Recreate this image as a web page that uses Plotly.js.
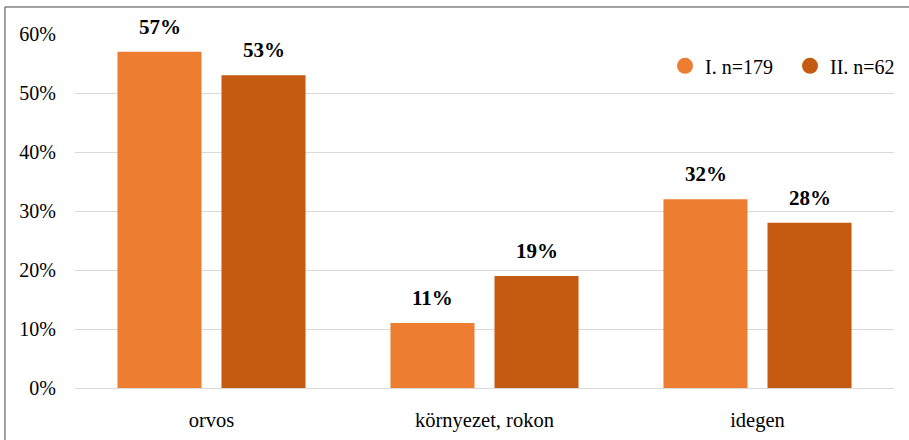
<!DOCTYPE html>
<html>
<head>
<meta charset="utf-8">
<script src="https://cdn.plot.ly/plotly-3.0.1.min.js"></script>
<style>
html,body{margin:0;padding:0;background:#fff;}
#chart{width:909px;height:440px;}
</style>
</head>
<body>
<div id="chart"></div>
<script>
const categories = ["orvos", "környezet, rokon", "idegen"];
const seriesNames = ["I. n=179", "II. n=62"];
const seriesI = [57, 11, 32];
const seriesII = [53, 19, 28];
const yTickVals = [0, 10, 20, 30, 40, 50, 60];
const yTickText = ["0%", "10%", "20%", "30%", "40%", "50%", "60%"];

const colors = ["#ED7D31", "#C55A11"];
const FONT = "Liberation Serif";

const allSeries = [seriesI, seriesII];
const traces = [];
allSeries.forEach((vals, i) => {
  traces.push({
    type: "bar",
    x: categories,
    y: vals,
    name: seriesNames[i],
    marker: {color: colors[i]},
    showlegend: false,
    hoverinfo: "x+y"
  });
});
allSeries.forEach((vals, i) => {
  traces.push({
    type: "scatter",
    mode: "markers",
    x: [null],
    y: [null],
    name: seriesNames[i],
    marker: {color: colors[i], size: 17, symbol: "circle"},
    showlegend: true,
    hoverinfo: "skip"
  });
});

const annotations = [];
allSeries.forEach((vals, i) => {
  vals.forEach((v, j) => {
    annotations.push({
      x: categories[j],
      y: v,
      xref: "x",
      yref: "y",
      text: "<b>" + v + "%</b>",
      showarrow: false,
      xanchor: "center",
      yanchor: "bottom",
      xshift: i === 0 ? -52 : 52,
      yshift: 11,
      font: {family: FONT, size: 21, color: "#000"}
    });
  });
});

const layout = {
  width: 909,
  height: 440,
  margin: {l: 75, r: 15, t: 34, b: 52, autoexpand: false},
  paper_bgcolor: "#fff",
  plot_bgcolor: "#fff",
  font: {family: FONT, size: 20, color: "#000"},
  barmode: "group",
  bargap: 0.238,
  bargroupgap: 0.192,
  xaxis: {
    type: "category",
    range: [-0.5, 2.5],
    showgrid: false,
    showline: false,
    zeroline: false,
    ticks: "",
    tickfont: {family: FONT, size: 20.5, color: "#000"},
    ticklabelstandoff: 17,
    automargin: false
  },
  yaxis: {
    range: [0, 60],
    tickvals: yTickVals,
    ticktext: yTickText,
    showgrid: true,
    gridcolor: "#D9D9D9",
    gridwidth: 1,
    zeroline: true,
    zerolinecolor: "#D9D9D9",
    zerolinewidth: 1,
    showline: false,
    ticks: "",
    ticklabelstandoff: 18,
    automargin: false,
    tickfont: {family: FONT, size: 20, color: "#000"}
  },
  showlegend: true,
  legend: {
    orientation: "h",
    x: 0.7204,
    xanchor: "left",
    y: 0.91,
    yanchor: "middle",
    entrywidth: 80,
    font: {family: FONT, size: 20, color: "#000"},
    bgcolor: "rgba(0,0,0,0)",
    itemclick: false
  },
  annotations: annotations,
  shapes: [
    {type: "line", xref: "paper", yref: "paper", x0: -0.0855, x1: 1.05, y0: 1.0763, y1: 1.0763, line: {color: "#404040", width: 1}},
    {type: "line", xref: "paper", yref: "paper", x0: -0.0855, x1: -0.0855, y0: 1.0763, y1: -0.2, line: {color: "#404040", width: 1}}
  ]
};

Plotly.newPlot("chart", traces, layout, {displayModeBar: false, staticPlot: true});
</script>
</body>
</html>
